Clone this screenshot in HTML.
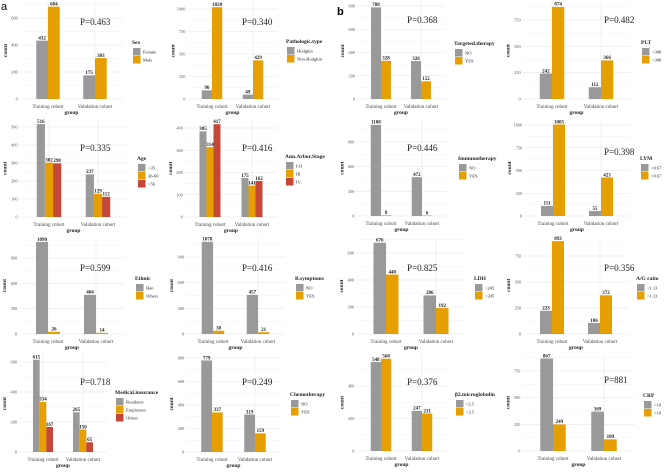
<!DOCTYPE html>
<html><head><meta charset="utf-8">
<style>
html,body{margin:0;padding:0;background:#fff;}
svg{display:block;font-family:"Liberation Serif",serif;}
</style></head>
<body>
<svg id="fig" width="669" height="473" viewBox="0 0 669 473" xmlns="http://www.w3.org/2000/svg">
<text x="1" y="10" font-family="Liberation Sans, sans-serif" font-size="11">a</text>
<text x="337" y="15" font-family="Liberation Sans, sans-serif" font-weight="bold" font-size="11">b</text>
</svg>
<script>
// ---- data ----
const groups = ["Training cohort","Validation cohort"];
const sexLevels = ["Female","Male"];            const sexValues = [[432,175],[684,303]];
const pathoLevels = ["Hodgkin","Non-Hodgkin"];  const pathoValues = [[96,49],[1020,429]];
const ageLevels = ["<35","36-60",">56"];        const ageValues = [[516,237],[302,129],[298,112]];
const stageLevels = ["I-II","III","IV"];        const stageValues = [[385,175],[314,141],[417,162]];
const ethnicLevels = ["Han","Others"];          const ethnicValues = [[1090,464],[26,14]];
const bsymLevels = ["NO","YES"];                const bsymValues = [[1078,457],[38,21]];
const insLevels = ["Residents","Employees","Others"]; const insValues = [[615,265],[334,150],[167,65]];
const chemoLevels = ["NO","YES"];               const chemoValues = [[779,319],[337,159]];
const targLevels = ["NO","YES"];                const targValues = [[788,326],[328,152]];
const pltLevels = ["<300",">300"];              const pltValues = [[242,112],[874,366]];
const immLevels = ["NO","YES"];                 const immValues = [[1108,472],[8,6]];
const lymLevels = ["<0.67",">0.67"];            const lymValues = [[111,55],[1005,423]];
const ldhLevels = ["<245",">245"];              const ldhValues = [[676,286],[440,192]];
const agLevels = ["<1.13",">1.13"];             const agValues = [[223,106],[893,372]];
const b2Levels = ["<2.5",">2.5"];               const b2Values = [[548,247],[568,231]];
const crpLevels = ["<10",">10"];                const crpValues = [[867,369],[249,109]];
const pTexts = ["P=0.463","P=0.340","P=0.335","P=0.416","P=0.599","P=0.416","P=0.718","P=0.249",
                "P=0.368","P=0.482","P=0.446","P=0.398","P=0.825","P=0.356","P=0.376","P=881"];
const legendTitles = ["Sex","Pathologic.type","Age","Ann.Arbor.Stage","Ethnic","B.symptoms","Medical.insurance","Chemotherapy",
                "Targeted.therapy","PLT","Immunotherapy","LYM","LDH","A/G ratio","β2.microglobulin","CRP"];
const tickSets = [[0,200,400,600],[0,250,500,750,1000],[0,100,200,300,400,500],[0,100,200,300,400],
                [0,300,600,900],[0,300,600,900],[0,200,400,600],[0,200,400,600,800],
                [0,200,400,600,800],[0,250,500,750],[0,300,600,900],[0,250,500,750,1000],
                [0,200,400,600],[0,250,500,750],[0,200,400],[0,250,500,750]];
const levelSets = [sexLevels,pathoLevels,ageLevels,stageLevels,ethnicLevels,bsymLevels,insLevels,chemoLevels,
                targLevels,pltLevels,immLevels,lymLevels,ldhLevels,agLevels,b2Levels,crpLevels];
const valueSets = [sexValues,pathoValues,ageValues,stageValues,ethnicValues,bsymValues,insValues,chemoValues,
                targValues,pltValues,immValues,lymValues,ldhValues,agValues,b2Values,crpValues];
const panelNames = ["sex","pathologic-type","age","ann-arbor-stage","ethnic","b-symptoms","medical-insurance","chemotherapy",
                "targeted-therapy","plt","immunotherapy","lym","ldh","ag-ratio","b2-microglobulin","crp"];

// ---- layout (pixel geometry, not data) ----
// [c1, c2, zeroY, refTickY, refTickIndex, pX, pY, legX, legY]
const layout = [
 [48,95,99,18,3,80,25,132,44],
 [212,253,99,9,4,242,25,286,43],
 [49,98,217,127,5,80,151,137,160],
 [210,252,217,128,4,242,151,285,158],
 [48,96,334,258,3,80,271,135,280],
 [213,258,334,257,3,242,271,295,280],
 [43,83,452,362,3,80,385,115,394],
 [212,255,452,358,4,242,385,290,396],
 [381,421,99,6,4,407,23,454,45],
 [552,601,99,20,3,604,23,641,44],
 [381,422,216,142,3,407,151,458,160],
 [553,601,216,125,4,604,155,640,160],
 [386,436,334,253,3,407,271,474,280],
 [552,600,334,256,3,604,271,636,280],
 [381,422,451,386,2,407,385,455,396],
 [553,604,451,371,3,604,383,643,397]
];
const colors = ["#999999","#E69F00","#C5473A"];
const NS = "http://www.w3.org/2000/svg";
const svg = document.getElementById('fig');
function mk(tag, attrs, parent){
  const e = document.createElementNS(NS, tag);
  for (const k in attrs) e.setAttribute(k, attrs[k]);
  (parent||svg).appendChild(e);
  return e;
}
function txt(x,y,s,size,opts,parent){
  const t = mk('text', Object.assign({x:x,y:y,'font-size':size,fill:'#222'}, opts||{}), parent);
  t.textContent = s;
  return t;
}

for (let p=0; p<16; p++){
  const [c1,c2,zeroY,refY,refIdx,pX,pY,legX,legY] = layout[p];
  const ticks = tickSets[p], levels = levelSets[p], vals = valueSets[p];
  const g = mk('g',{});
  
  
  const k = (zeroY - refY) / ticks[refIdx];
  const yScale = v => zeroY - v * k;
  const sp = c2 - c1;
  const L = c1 - 0.6*sp, R = c2 + 0.6*sp;
  let maxV = 0; vals.forEach(a=>a.forEach(v=>{ if(v>maxV) maxV=v; }));
  const topY = yScale(maxV*1.05);
  const xScale = gi => gi===0 ? c1 : c2;
  // minor grid
  for (let i=0;i<ticks.length;i++){
    const step = ticks[1]-ticks[0];
    const mv = ticks[i] + step/2;
    if (yScale(mv) >= topY){ mk('line',{x1:L,x2:R,y1:yScale(mv),y2:yScale(mv),stroke:'#f2f2f2','stroke-width':0.5},g); }
  }
  // major grid + ticks
  ticks.forEach(t=>{
    const y = yScale(t);
    const gl = mk('line',{x1:L,x2:R,y1:y,y2:y,stroke:'#e6e6e6','stroke-width':0.6},g);
    
    
    const tl = txt(L-2, y+1.5, String(t), 4.3, {'text-anchor':'end',fill:'#555'}, g);
    
    
  });
  [c1,c2].forEach(cx=>{ mk('line',{x1:cx,x2:cx,y1:topY,y2:zeroY,stroke:'#e6e6e6','stroke-width':0.6},g); });
  // bars
  const n = levels.length;
  const total = 0.5*sp, bw = total/n;
  for (let li=0; li<n; li++){
    for (let gi=0; gi<2; gi++){
      const v = vals[li][gi];
      const x = xScale(gi) - total/2 + li*bw;
      const y = yScale(v);
      const b = mk('rect',{x:x,y:y,width:bw,height:zeroY-y,fill:colors[li]},g);
      
      
      const vl = txt(x+bw/2, y-1.2, String(v), 5, {'text-anchor':'middle','font-weight':'bold',fill:'#222'}, g);
      
      
    }
  }
  // x labels
  groups.forEach((s,gi)=>{
    const xl = txt(xScale(gi), zeroY+9, s, 5, {'text-anchor':'middle',fill:'#444'}, g);
    
    
  });
  const xt = txt((L+R)/2, zeroY+15, 'group', 5.5, {'text-anchor':'middle','font-weight':'bold'}, g);
  
  
  const yx = L-13, yy = (topY+zeroY)/2;
  const yt = txt(yx, yy, 'count', 5.5, {'text-anchor':'middle','font-weight':'bold',transform:'rotate(-90 '+yx+' '+yy+')'}, g);
  
  
  // p-value
  const pt = txt(pX, pY, pTexts[p], 9, {}, g);
  
  
  // legend
  const lg = mk('g',{},g);
  
  
  const lt = txt(legX, legY, legendTitles[p], 5.5, {'font-weight':'bold'}, lg);
  
  
  levels.forEach((lv,li)=>{
    const ky = legY + 4 + li*8;
    const kr = mk('rect',{x:legX+1,y:ky,width:7.5,height:7.5,fill:colors[li]},lg);
    
    
    const kt = txt(legX+11, ky+5.3, lv, 4.5, {}, lg);
    
    
  });
}
</script>
</body></html>
